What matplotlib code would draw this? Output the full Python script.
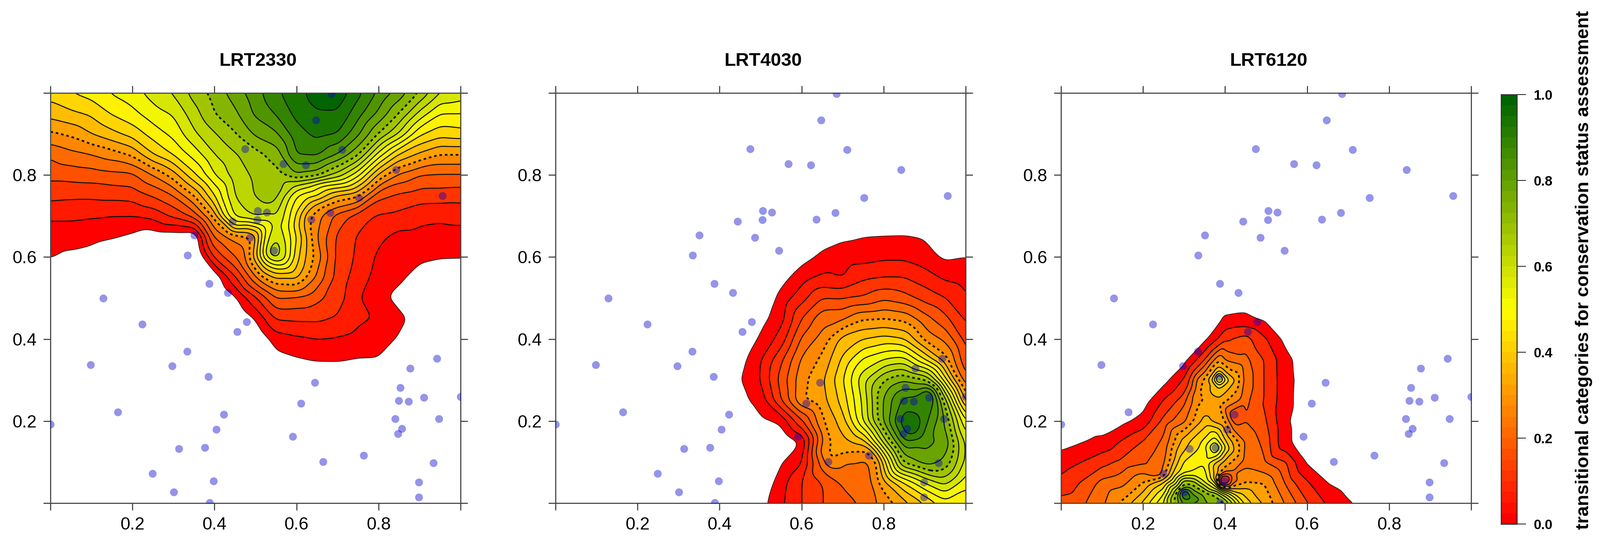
import numpy as np
import matplotlib
matplotlib.use("Agg")
import matplotlib.pyplot as plt
import matplotlib.tri as mtri
from matplotlib.cm import ScalarMappable
from matplotlib.colors import LinearSegmentedColormap, Normalize

plt.rcParams["font.family"] = ["Liberation Sans", "DejaVu Sans"]

# ====== sampling sites, same in every panel ======
SITE_X = [0.0, 0.098, 0.129, 0.164, 0.224, 0.249, 0.301, 0.313, 0.297, 0.333, 0.334, 0.351, 0.377, 0.385, 0.387,
          0.388, 0.398, 0.404, 0.423, 0.432, 0.444, 0.455, 0.475, 0.478, 0.486, 0.504, 0.505, 0.527, 0.545, 0.568,
          0.591, 0.611, 0.622, 0.636, 0.645, 0.647, 0.665, 0.682, 0.685, 0.711, 0.752, 0.764, 0.841, 0.842, 0.847,
          0.849, 0.853, 0.857, 0.873, 0.877, 0.898, 0.898, 0.911, 0.934, 0.942, 0.947, 0.956, 1.0]
SITE_Y = [0.192, 0.337, 0.500, 0.222, 0.436, 0.072, 0.027, 0.133, 0.334, 0.370, 0.604, 0.653, 0.135, 0.308, 0.535,
          0.001, 0.054, 0.180, 0.216, 0.513, 0.687, 0.418, 0.864, 0.442, 0.647, 0.691, 0.713, 0.709, 0.616, 0.827,
          0.162, 0.243, 0.824, 0.692, 0.294, 0.934, 0.101, 0.708, 0.998, 0.862, 0.744, 0.116, 0.206, 0.813, 0.169,
          0.250, 0.281, 0.182, 0.248, 0.329, 0.051, 0.014, 0.257, 0.098, 0.353, 0.206, 0.749, 0.259]

TICKS = [0.0, 0.2, 0.4, 0.6, 0.8, 1.0]
TICK_LABELS = ["", "0.2", "0.4", "0.6", "0.8", ""]
BAR_TICKS = [0.0, 0.2, 0.4, 0.6, 0.8, 1.0]

# contour levels
LEVELS_UNIFORM = [0.0, 0.05, 0.1, 0.15, 0.2, 0.25, 0.3, 0.35, 0.4, 0.45, 0.5, 0.55, 0.6, 0.65, 0.7, 0.75, 0.8, 0.85, 0.9, 0.95]
LEVELS_LRT6120 = [0.0, 0.08, 0.15, 0.2, 0.25, 0.3, 0.35, 0.4, 0.45, 0.5, 0.55, 0.6, 0.65, 0.7, 0.75, 0.8, 0.85, 0.9, 0.95]
DASHED_LEVELS = [0.3, 0.7]

# ====== LRT2330, values, one list per column, negative = outside the area ======
LRT2330_X = [0.0, 0.05, 0.1, 0.15, 0.2, 0.25, 0.3, 0.35, 0.4, 0.45, 0.5, 0.55, 0.6, 0.65, 0.7, 0.75, 0.8, 0.85, 0.9, 0.95, 1.0]
LRT2330_Y = [1.0, 0.95, 0.9, 0.85, 0.8, 0.75, 0.7, 0.65, 0.6, 0.55, 0.5, 0.45, 0.4, 0.35, 0.3]
LRT2330_Z = [
    [.42, .37, .29, .21, .165, .115, .06, .02, .003, -.04, -.08, -.1, -.1, -.1, -.1],
    [.45, .39, .31, .235, .17, .11, .06, .02, -.01, -.05, -.08, -.1, -.1, -.1, -.1],
    [.47, .41, .35, .25, .175, .11, .055, .015, -.02, -.06, -.09, -.1, -.1, -.1, -.1],
    [.505, .455, .385, .275, .185, .115, .05, .005, -.04, -.07, -.1, -.1, -.1, -.1, -.1],
    [.53, .485, .42, .31, .19, .12, .05, -.01, -.05, -.08, -.1, -.1, -.1, -.1, -.1],
    [.57, .53, .47, .40, .25, .155, .065, -.03, -.06, -.09, -.1, -.1, -.1, -.1, -.1],
    [.605, .555, .515, .455, .325, .20, .11, -.03, -.07, -.09, -.1, -.1, -.1, -.1, -.1],
    [.67, .63, .59, .52, .44, .30, .17, -.05, -.08, -.1, -.1, -.1, -.1, -.1, -.1],
    [.72, .70, .645, .60, .55, .45, .32, .21, .11, -.04, -.08, -.1, -.1, -.1, -.1],
    [.775, .74, .695, .645, .625, .605, .56, .27, .20, .09, -.01, -.06, -.1, -.1, -.1],
    [.83, .81, .76, .68, .66, .655, .61, .33, .38, .24, .09, .005, -.05, -.1, -.1],
    [.89, .855, .79, .72, .68, .67, .60, .60, .62, .36, .20, .105, .025, -.02, -.06],
    [.93, .915, .88, .855, .75, .50, .44, .45, .42, .36, .19, .11, .04, -.005, -.05],
    [.975, .945, .915, .86, .72, .46, .27, .25, .28, .24, .165, .11, .05, .005, -.05],
    [.985, .945, .90, .80, .63, .345, .178, .14, .135, .13, .125, .095, .045, .006, -.05],
    [.915, .87, .81, .71, .515, .31, .125, .095, .09, .075, .055, .06, .033, -.002, -.05],
    [.84, .79, .70, .53, .34, .165, .093, .06, .04, .03, .015, .045, .02, -.003, -.05],
    [.78, .70, .595, .395, .24, .14, .085, .035, .02, .01, -.015, .012, -.005, -.04, -.08],
    [.695, .585, .46, .34, .20, .125, .065, .035, .01, -.02, -.04, -.02, -.05, -.08, -.1],
    [.60, .50, .42, .30, .195, .125, .06, .03, .003, -.03, -.06, -.08, -.1, -.1, -.1],
    [.58, .50, .43, .30, .195, .12, .067, .03, .002, -.03, -.06, -.08, -.1, -.1, -.1],
]
# extra spot readings where the contours crowd
LRT2330_SPOT_X = [.525, .525, .525, .525, .525, .525, .575, .575, .575, .575, .575, .575, .5, .5, .475, .475, .475, .475, .475, .475,
                  .55, .55, .55, .55, .545, .6, .6, .625, .625, .625, .625, .625, .625, .625, .65, .65, .45, .425, .425, .425, .35]
LRT2330_SPOT_Y = [.725, .675, .625, .6, .575, .55, .725, .675, .625, .6, .575, .55, .675, .625, .675, .65, .625, .6, .7, .575,
                  .625, .675, .575, .525, .615, .775, .525, .675, .625, .575, .7, .75, .775, .8, .775, .725, .675, .675, .65, .7, .675]
LRT2330_SPOT_Z = [.65, .50, .55, .55, .42, .31, .55, .52, .55, .56, .47, .35, .45, .36, .42, .29, .25, .24, .585, .22,
                  .64, .57, .47, .27, .68, .60, .28, .32, .35, .33, .32, .47, .57, .73, .52, .33, .45, .31, .24, .47, .06]

# ====== LRT4030 ======
LRT4030_X = [0.45, 0.5, 0.55, 0.6, 0.65, 0.7, 0.75, 0.8, 0.85, 0.9, 0.95, 1.0]
LRT4030_Y = [0.7, 0.65, 0.6, 0.55, 0.5, 0.45, 0.4, 0.35, 0.3, 0.25, 0.2, 0.15, 0.1, 0.05, 0.0]
LRT4030_Z = [
    [-.08, -.08, -.08, -.08, -.08, -.07, -.05, -.02, -.005, -.015, -.05, -.08, -.08, -.08, -.08],
    [-.08, -.08, -.08, -.08, -.06, -.02, .01, .045, .05, .02, -.005, -.05, -.08, -.05, -.02],
    [-.08, -.08, -.06, -.02, .02, .03, .07, .14, .17, .15, .01, -.05, -.005, .03, .04],
    [-.06, -.04, -.02, .03, .08, .15, .21, .26, .285, .30, .14, .0, .04, .10, .10],
    [-.05, -.02, .01, .06, .15, .235, .27, .31, .34, .33, .29, .25, .22, .15, .15],
    [-.04, -.01, .03, .045, .145, .24, .37, .41, .445, .42, .375, .34, .24, .21, .175],
    [-.03, -.002, .03, .09, .155, .295, .40, .51, .585, .56, .55, .375, .24, .235, .21],
    [-.03, .0, .04, .10, .19, .30, .42, .55, .70, .76, .76, .62, .42, .33, .27],
    [-.03, .001, .04, .10, .17, .285, .40, .57, .75, .87, .94, .85, .72, .45, .33],
    [-.03, -.005, .02, .075, .13, .22, .285, .45, .71, .89, .87, .82, .78, .55, .40],
    [-.04, -.02, -.01, .04, .10, .165, .24, .32, .47, .67, .75, .79, .74, .62, .48],
    [-.04, -.02, -.002, .03, .055, .09, .13, .16, .21, .33, .50, .58, .58, .52, .46],
]
LRT4030_SPOT_X = [.91, .865, .875, .89, .925, .665, .69, .69, .725, .76, .725, .76, .725, .67, .65, .65, .665, .785, .787, .77, .77, .66, .675]
LRT4030_SPOT_Y = [.26, .19, .25, .22, .25, .1, .12, .09, .125, .13, .1, .1, .15, .13, .13, .1, .075, .1, .05, .1, .05, .175, .15]
LRT4030_SPOT_Z = [.97, .98, .875, .89, .85, .3, .31, .26, .3, .3, .25, .24, .355, .31, .28, .25, .22, .3, .3, .26, .24, .3, .31]

# ====== LRT6120 ======
LRT6120_X = [0.0, 0.05, 0.1, 0.15, 0.2, 0.25, 0.3, 0.35, 0.4, 0.45, 0.5, 0.55, 0.6, 0.65, 0.7, 0.75, 0.8]
LRT6120_Y = [0.5, 0.45, 0.4, 0.35, 0.3, 0.25, 0.2, 0.15, 0.1, 0.05, 0.0]
LRT6120_Z = [
    [-.08, -.08, -.08, -.08, -.08, -.08, -.07, -.03, .04, .105, .175],
    [-.08, -.08, -.08, -.08, -.08, -.08, -.05, -.005, .08, .155, .19],
    [-.08, -.08, -.08, -.08, -.08, -.07, -.05, .02, .13, .215, .24],
    [-.08, -.08, -.08, -.08, -.08, -.06, -.02, .09, .167, .235, .31],
    [-.08, -.08, -.08, -.08, -.08, -.04, .03, .155, .19, .30, .41],
    [-.08, -.08, -.08, -.07, -.03, .085, .17, .21, .24, .40, .55],
    [-.08, -.08, -.07, -.03, .09, .185, .24, .375, .455, .69, .82],
    [-.08, -.07, -.02, .15, .31, .30, .37, .465, .49, .55, .76],
    [-.05, .01, .14, .245, .47, .31, .30, .41, .33, .14, .70],
    [-.05, .02, .175, .215, .235, .215, .20, .24, .23, .30, .43],
    [-.06, -.02, .085, .14, .14, .14, .155, .18, .20, .29, .33],
    [-.08, -.06, -.03, .025, .03, .025, .01, .01, .15, .19, .24],
    [-.08, -.08, -.08, -.06, -.05, -.05, -.05, -.03, -.01, .09, .155],
    [-.08, -.08, -.08, -.08, -.08, -.08, -.08, -.08, -.05, -.002, .07],
    [-.08, -.08, -.08, -.08, -.08, -.08, -.08, -.08, -.08, -.04, .01],
    [-.08, -.08, -.08, -.08, -.08, -.08, -.08, -.08, -.08, -.06, -.03],
    [-.08, -.08, -.08, -.08, -.08, -.08, -.08, -.08, -.08, -.08, -.08],
]
LRT6120_SPOT_X = [.385, .41, .425, .37, .385, .385, .385, .385, .385,
                  .375, .36, .39, .375, .375, .375, .4, .42, .345,
                  .4, .415, .4, .4, .42, .38, .37, .4, .42, .41, .4, .38, .36, .38, .43, .45,
                  .3, .32, .34, .28, .26, .27, .32, .3, .28, .35, .37, .35,
                  .25, .275, .275, .3, .325, .325, .325, .26, .24, .26, .27, .28, .29,
                  .39, .41, .39, .41, .44, .44, .425, .425, .335, .335, .335]
LRT6120_SPOT_Y = [.305, .3, .3, .3, .325, .345, .28, .26, .24,
                  .135, .135, .135, .15, .12, .165, .135, .13, .13,
                  .055, .055, .07, .08, .075, .06, .06, .035, .04, .03, .02, .04, .03, .02, .02, .03,
                  .025, .01, .01, .01, .01, .04, .04, .04, .03, .025, .02, .04,
                  .02, .07, .05, .075, .07, .05, .085, .07, .07, .1, .1, .1, .12,
                  .045, .045, .065, .065, .3, .25, .21, .19, .3, .27, .24]
LRT6120_SPOT_Z = [.64, .40, .35, .42, .39, .31, .40, .36, .31,
                  .66, .54, .53, .55, .55, .49, .46, .36, .47,
                  .02, .20, .20, .27, .24, .32, .42, .38, .32, .42, .58, .50, .62, .68, .43, .37,
                  .92, .85, .80, .72, .62, .58, .72, .73, .66, .72, .71, .62,
                  .50, .42, .50, .49, .53, .67, .49, .33, .23, .28, .33, .38, .39,
                  .12, .14, .12, .14, .27, .24, .13, .2, .27, .29, .30]

PANELS = [
    ("LRT2330", 128, LRT2330_X, LRT2330_Y, LRT2330_Z, LRT2330_SPOT_X, LRT2330_SPOT_Y, LRT2330_SPOT_Z, LEVELS_UNIFORM, 0.009),
    ("LRT4030", 1410, LRT4030_X, LRT4030_Y, LRT4030_Z, LRT4030_SPOT_X, LRT4030_SPOT_Y, LRT4030_SPOT_Z, LEVELS_UNIFORM, 0.01),
    ("LRT6120", 2693, LRT6120_X, LRT6120_Y, LRT6120_Z, LRT6120_SPOT_X, LRT6120_SPOT_Y, LRT6120_SPOT_Z, LEVELS_LRT6120, 0.005),
]

WIDTH, HEIGHT = 4061, 1363
AX_TOP, AX_SIZE = 236, 1041
FRAME_COLOR = "#444444"

cmap = LinearSegmentedColormap.from_list("status", ["#FF0000", "#FFFF00", "#006400"], N=256)
bar_cmap = LinearSegmentedColormap.from_list("status40", ["#FF0000", "#FFFF00", "#006400"], N=40)


def blur(field, sigma_cells):
    # small gaussian, the hand read values are noisy and the contours wiggle otherwise
    radius = int(3 * sigma_cells) + 1
    kernel = np.exp(-0.5 * (np.arange(-radius, radius + 1) / sigma_cells) ** 2)
    kernel /= kernel.sum()
    pad = np.pad(field, radius, mode="edge")
    pad = np.apply_along_axis(lambda v: np.convolve(v, kernel, mode="same"), 0, pad)
    pad = np.apply_along_axis(lambda v: np.convolve(v, kernel, mode="same"), 1, pad)
    return pad[radius:-radius, radius:-radius]


def smooth_field(xs, ys, zs, spot_x, spot_y, spot_z, sigma):
    grid_x, grid_y = np.meshgrid(xs, ys, indexing="ij")
    x = np.concatenate([grid_x.ravel(), spot_x])
    y = np.concatenate([grid_y.ravel(), spot_y])
    z = np.concatenate([np.array(zs).ravel(), spot_z])
    tri = mtri.Triangulation(x, y)
    step = 0.002
    fine_x = np.linspace(min(xs) + 1e-6, max(xs) - 1e-6, int(round((max(xs) - min(xs)) / step)) + 1)
    fine_y = np.linspace(min(ys) + 1e-6, max(ys) - 1e-6, int(round((max(ys) - min(ys)) / step)) + 1)
    mesh_x, mesh_y = np.meshgrid(fine_x, fine_y)
    fine_z = mtri.LinearTriInterpolator(tri, z)(mesh_x, mesh_y)
    fine_z = np.ma.filled(fine_z, -0.1)
    return fine_x, fine_y, blur(fine_z, sigma / step)


fig = plt.figure(figsize=(WIDTH / 100, HEIGHT / 100), dpi=100)

for title, left, xs, ys, zs, sx, sy, sz, levels, sigma in PANELS:
    ax = fig.add_axes([left / WIDTH, 1 - (AX_TOP + AX_SIZE) / HEIGHT, AX_SIZE / WIDTH, AX_SIZE / HEIGHT])
    fx, fy, fz = smooth_field(xs, ys, zs, sx, sy, sz, sigma)

    band_edges = levels + [1.2]
    band_colors = [cmap(lev / 0.95) for lev in levels]
    ax.contourf(fx, fy, fz, levels=band_edges, colors=band_colors)

    solid = [lev for lev in levels if lev not in DASHED_LEVELS and lev > 0]
    ax.contour(fx, fy, fz, levels=[0.0], colors="#222222", linewidths=1.3)
    ax.contour(fx, fy, fz, levels=solid, colors="#111111", linewidths=1.9, linestyles="solid")
    ax.contour(fx, fy, fz, levels=DASHED_LEVELS, colors="#111111", linewidths=3.2, linestyles=[(0, (1.5, 1.6))])

    ax.scatter(SITE_X, SITE_Y, s=205, color="#0000CD", alpha=0.42, linewidths=0, zorder=5)

    ax.set_xlim(0, 1)
    ax.set_ylim(0, 1)
    ax.set_xticks(TICKS)
    ax.set_yticks(TICKS)
    ax.set_xticklabels(TICK_LABELS)
    ax.set_yticklabels(TICK_LABELS)
    ax.tick_params(axis="both", which="major", direction="out", length=13, width=2, color=FRAME_COLOR,
                   labelsize=32, top=True, right=True, pad=12)
    for spine in ax.spines.values():
        spine.set_color(FRAME_COLOR)
        spine.set_linewidth(2)
    ax.text(0.507, 1.078, title, transform=ax.transAxes, ha="center", va="center", fontsize=34, fontweight="bold")

# ====== colorbar ======
cax = fig.add_axes([3810 / WIDTH, 1 - 1330 / HEIGHT, 40 / WIDTH, 1090 / HEIGHT])
bar = fig.colorbar(ScalarMappable(norm=Normalize(0, 1), cmap=bar_cmap), cax=cax, ticks=BAR_TICKS)
bar.ax.set_yticklabels([f"{t:.1f}" for t in BAR_TICKS], fontsize=25, fontweight="bold")
bar.ax.tick_params(length=16.5, width=1.5, color="#222222", pad=14)
bar.outline.set_linewidth(2)
bar.outline.set_edgecolor("#333333")

fig.text(4020 / WIDTH, 1 - 686 / HEIGHT, "transitional categories for conservation status assessment",
         rotation=90, ha="center", va="center", fontsize=33.8, fontweight="bold")

fig.savefig("out.png", dpi=100, facecolor="white")
